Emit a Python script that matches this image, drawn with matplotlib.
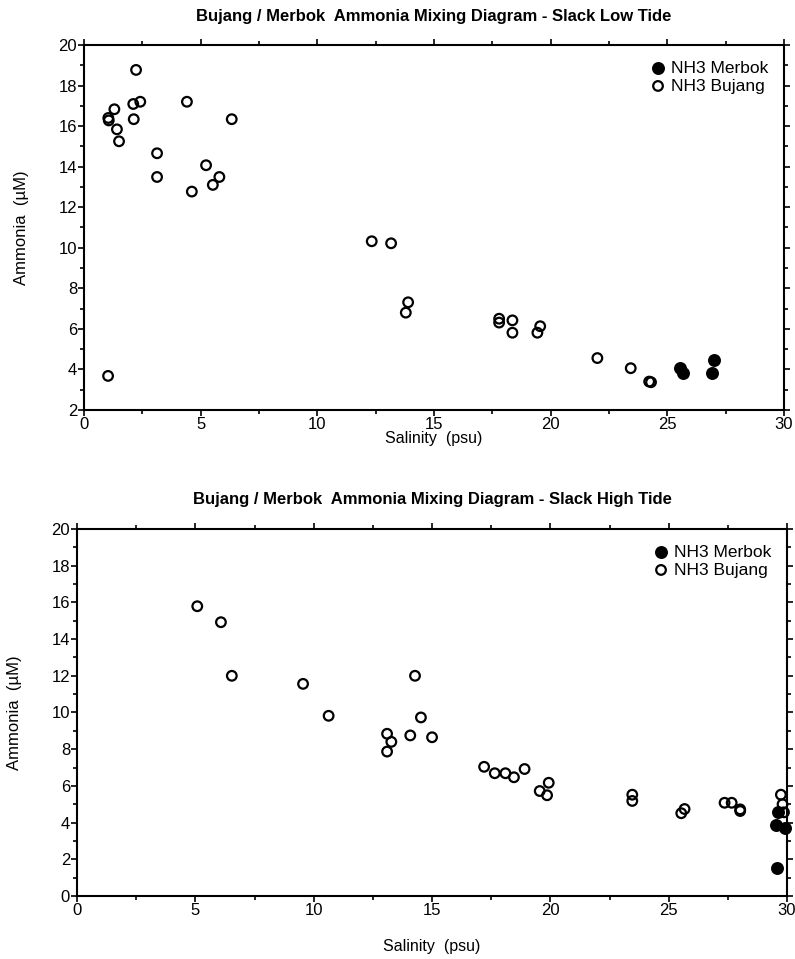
import matplotlib
matplotlib.use("Agg")
import matplotlib.pyplot as plt
from matplotlib.ticker import MultipleLocator

plt.rcParams['font.family'] = ['Liberation Sans', 'DejaVu Sans']

# ---- Slack Low Tide ----
low_bujang_sal = [2.23, 2.11, 2.41, 1.30, 1.04, 1.06, 2.13, 1.41, 1.50, 4.41, 6.33,
                  3.13, 3.13, 5.23, 5.80, 5.52, 4.62, 1.03,
                  12.33, 13.16, 13.89, 13.79, 17.79, 17.79, 18.36, 18.36, 19.55, 19.43,
                  22.0, 23.43, 24.22, 24.30]
low_bujang_nh3 = [18.77, 17.09, 17.20, 16.83, 16.40, 16.28, 16.34, 15.84, 15.25, 17.20, 16.34,
                  14.66, 13.49, 14.07, 13.49, 13.10, 12.77, 3.68,
                  10.32, 10.22, 7.31, 6.80, 6.50, 6.31, 6.42, 5.81, 6.13, 5.81,
                  4.56, 4.06, 3.40, 3.37]
low_merbok_sal = [25.55, 25.66, 27.00, 26.92]
low_merbok_nh3 = [4.09, 3.82, 4.47, 3.80]

# ---- Slack High Tide ----
high_bujang_sal = [5.08, 6.08, 6.54, 9.55, 10.63, 14.28, 14.53, 13.10, 13.28, 13.10,
                   14.08, 15.00, 17.20, 17.65, 18.10, 18.46, 18.91, 19.55, 19.86, 19.93,
                   23.46, 23.46, 25.53, 25.67, 27.36, 27.66, 28.02, 28.02,
                   29.74, 29.81, 29.87]
high_bujang_nh3 = [15.79, 14.92, 12.00, 11.56, 9.82, 12.00, 9.73, 8.84, 8.40, 7.87,
                   8.75, 8.65, 7.04, 6.69, 6.69, 6.47, 6.92, 5.72, 5.49, 6.17,
                   5.52, 5.18, 4.51, 4.74, 5.08, 5.08, 4.72, 4.63,
                   5.52, 5.00, 4.56]
high_merbok_sal = [29.60, 29.55, 29.92, 29.58]
high_merbok_nh3 = [4.56, 3.88, 3.69, 1.51]

titles = ["Bujang / Merbok  Ammonia Mixing Diagram - Slack Low Tide",
          "Bujang / Merbok  Ammonia Mixing Diagram - Slack High Tide"]
xlabel = "Salinity  (psu)"
ylabel = "Ammonia  (\u00b5M)"
legend_labels = ["NH3 Merbok", "NH3 Bujang"]

fig = plt.figure(figsize=(7.95, 9.59), dpi=100)
ax1 = fig.add_axes([0.1057, 0.5725, 0.8805, 0.3806])
ax2 = fig.add_axes([0.0969, 0.0657, 0.8931, 0.3827])

def style(ax, ylim, title, title_pad, labelpad_x, labelpad_y):
    ax.set_xlim(0, 30)
    ax.set_ylim(*ylim)
    ax.xaxis.set_major_locator(MultipleLocator(5))
    ax.xaxis.set_minor_locator(MultipleLocator(2.5))
    ax.yaxis.set_major_locator(MultipleLocator(2))
    ax.yaxis.set_minor_locator(MultipleLocator(1))
    ax.tick_params(which='both', direction='out', top=True, right=True, width=1.2,
                   labelsize=12, pad=1, color='black')
    ax.tick_params(which='major', length=4)
    ax.tick_params(which='minor', length=3)
    for s in ax.spines.values():
        s.set_linewidth(1.5)
    ax.set_title(title, fontsize=12, fontweight='bold', pad=title_pad)
    ax.set_xlabel(xlabel, fontsize=11.5, labelpad=labelpad_x)
    ax.set_ylabel(ylabel, fontsize=12, labelpad=labelpad_y)

def draw(ax, bs, bn, ms, mn):
    ax.scatter(ms, mn, s=66, facecolor='black', edgecolor='black', linewidths=1.2,
               label=legend_labels[0], zorder=3, clip_on=False)
    ax.scatter(bs, bn, s=48, facecolor='none', edgecolor='black', linewidths=1.6,
               label=legend_labels[1], zorder=4, clip_on=False)
    ax.legend(loc='upper right', frameon=False, fontsize=12.5, handletextpad=0.25,
              borderaxespad=0.6, labelspacing=0.15, handlelength=1.0,
              borderpad=0.3)

draw(ax1, low_bujang_sal, low_bujang_nh3, low_merbok_sal, low_merbok_nh3)
style(ax1, (2, 20), titles[0], 17, -1, 21)
draw(ax2, high_bujang_sal, high_bujang_nh3, high_merbok_sal, high_merbok_nh3)
style(ax2, (0, 20), titles[1], 18, 15, 21)

fig.savefig("out.png", dpi=100)
